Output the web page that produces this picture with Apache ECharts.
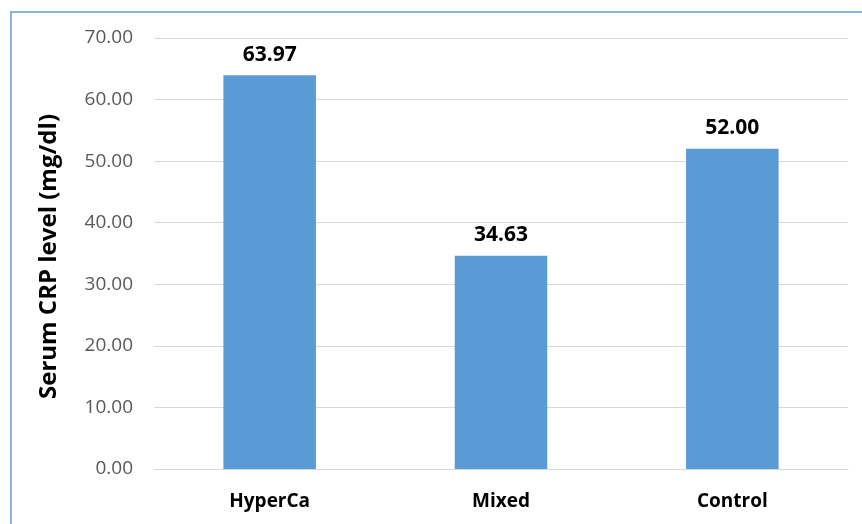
<!DOCTYPE html>
<html>
<head>
<meta charset="utf-8">
<script src="https://cdn.jsdelivr.net/npm/echarts@6/dist/echarts.min.js"></script>
<style>
  html, body { margin: 0; padding: 0; background: #fff; }
  #frame {
    position: absolute; left: 10px; top: 11px; width: 900px; height: 600px;
    border-left: 2px solid #8DB4E2; border-top: 2px solid #8DB4E2;
  }
  #chart { position: absolute; left: 0; top: 0; width: 862px; height: 524px; }
</style>
</head>
<body>
<div id="frame"></div>
<div id="chart"></div>
<script>
var categories = ['HyperCa', 'Mixed', 'Control']
var crpValues = [63.97, 34.63, 52.00]
var yTitle = 'Serum CRP level (mg/dl)'

var myChart = echarts.init(document.getElementById('chart'))
var option = {
  animation: false,
  textStyle: { fontFamily: 'Open Sans' },
  grid: { left: 154, right: 14, top: 38, bottom: 55 },
  xAxis: {
    type: 'category',
    data: categories,
    axisTick: { show: false },
    axisLine: { lineStyle: { color: '#D9D9D9', width: 1 } },
    axisLabel: { color: '#000', fontWeight: 'bold', fontSize: 19, margin: 23 }
  },
  yAxis: {
    type: 'value',
    min: 0,
    max: 70,
    interval: 10,
    name: yTitle,
    nameLocation: 'middle',
    nameGap: 93,
    nameTextStyle: { color: '#000', fontWeight: 'bold', fontSize: 24, padding: [0, 6, 0, 0] },
    axisLine: { show: false },
    axisTick: { show: false },
    axisLabel: {
      color: '#595959', fontSize: 19, margin: 21,
      formatter: function (v) { return v.toFixed(2) }
    },
    splitLine: { lineStyle: { color: '#D9D9D9', width: 1 } }
  },
  series: [
    {
      type: 'bar',
      data: crpValues,
      barWidth: '40%',
      itemStyle: { color: '#5B9BD5' },
      label: {
        show: true,
        position: 'top',
        distance: 10,
        color: '#000',
        fontWeight: 'bold',
        fontSize: 21,
        formatter: function (p) { return p.value.toFixed(2) }
      }
    }
  ]
}
myChart.setOption(option)
</script>
</body>
</html>
